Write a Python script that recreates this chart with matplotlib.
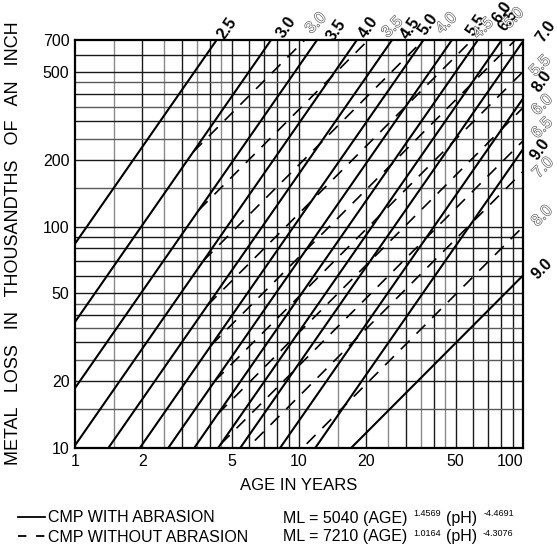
import numpy as np
import matplotlib
matplotlib.use("Agg")
import matplotlib.pyplot as plt
import matplotlib.patheffects as pe

# ---------------- data ----------------
ph_with = [2.5, 3.0, 3.5, 4.0, 4.5, 5.0, 5.5, 6.0, 6.5, 7.0, 8.0, 9.0]
ph_without = [3.0, 3.5, 4.0, 4.5, 5.0, 5.5, 6.0, 6.5, 7.0, 8.0, 9.0]
coef_with, age_exp_with, ph_exp_with = 5040, 1.4569, -4.4691
coef_without, age_exp_without, ph_exp_without = 7210, 1.0164, -4.3076
x_ticks = [1, 2, 5, 10, 20, 50, 100]
y_ticks = [10, 20, 50, 100, 200, 500, 700]
x_grid = [1.5, 2, 2.5, 3, 3.5, 4, 4.5, 5, 6, 7, 8, 9, 10, 15, 20, 25, 30, 35,
          40, 45, 50, 60, 70, 80, 90]
y_grid = [15, 20, 25, 30, 35, 40, 45, 50, 60, 70, 80, 90, 100, 150, 200, 250,
          300, 350, 400, 450, 500, 600]
x_label = "AGE IN YEARS"
y_label = "METAL   LOSS   IN   THOUSANDTHS   OF   AN   INCH"
legend_with = "CMP WITH ABRASION"
legend_without = "CMP WITHOUT ABRASION"

# ---------------- styles ----------------
W, H, DPI = 557, 554, 100
plt.rcParams['font.family'] = ['Liberation Sans', 'DejaVu Sans']
plt.rcParams['lines.scale_dashes'] = False

fig = plt.figure(figsize=(W / DPI, H / DPI), dpi=DPI)
ax = fig.add_axes([75 / W, 1 - 448 / H, (523 - 75) / W, (448 - 40) / H])
ax.set_xscale('log')
ax.set_yscale('log')
XMIN, XMAX, YMIN, YMAX = 1, 100, 10, 700
ax.set_xlim(XMIN, XMAX)
ax.set_ylim(YMIN, YMAX)


def is_half(g):
    return (g * 2) % 2 == 1 or (10 <= g < 100 and g % 10 == 5) or (g >= 100 and g % 100 == 50)


for g in x_grid:
    ax.axvline(g, color='#8a8a8a' if is_half(g) else '#1a1a1a', lw=1.0, zorder=1)
for g in y_grid:
    ax.axhline(g, color='#5a5a5a' if is_half(g) else '#1a1a1a', lw=1.0, zorder=1)

ax.set_xticks(x_ticks)
ax.set_xticklabels([str(t) for t in x_ticks])
ax.set_yticks(y_ticks)
ax.set_yticklabels([str(t) for t in y_ticks])
ax.minorticks_off()
ax.tick_params(length=0, labelsize=11.5, pad=4)
ax.get_xticklabels()[-1].set_horizontalalignment('right')
for s in ax.spines.values():
    s.set_linewidth(1.6)
    s.set_zorder(5)


def ml(c, a, e, p, age):
    return c * np.power(age, a) * p ** e


def end_point(c, a, e, p):
    age_top = (YMAX / (c * p ** e)) ** (1 / a)
    if age_top <= XMAX:
        return age_top, YMAX
    return XMAX, ml(c, a, e, p, XMAX)


# label offsets in pixels from line end (x right, y up)
off_with = {2.5: (11, 12), 3.0: (15, 13), 3.5: (19, 10), 4.0: (12, 13),
            4.5: (18, 12), 5.0: (5, 16), 5.5: (24, 15), 6.0: (24, 28),
            6.5: (6, 20), 7.0: (23, 10), 8.0: (19, 17), 9.0: (17, 0)}
off_without = {3.0: (11, 17), 3.5: (24, 13), 4.0: (23, 17), 4.5: (11, 12),
               5.0: (-2, 22), 5.5: (17, 6), 6.0: (19, 3), 6.5: (19, 13),
               7.0: (20, 4), 8.0: (19, 11), 9.0: (19, 7)}
solid_without = {9.0}

bold_kw = dict(fontsize=11.5, fontweight='bold', color='black',
               ha='center', va='center', rotation=55,
               textcoords='offset pixels', annotation_clip=False)
hollow_kw = dict(fontsize=11.5, color='white', ha='center', va='center',
                 rotation=45, textcoords='offset pixels', annotation_clip=False,
                 path_effects=[pe.withStroke(linewidth=0.9, foreground='#555555')])

for p in ph_with:
    ages = np.array([XMIN, XMAX], dtype=float)
    ax.plot(ages, ml(coef_with, age_exp_with, ph_exp_with, p, ages),
            color='black', lw=1.5, zorder=3, solid_capstyle='butt')
    ex, ey = end_point(coef_with, age_exp_with, ph_exp_with, p)
    ax.annotate(f"{p:.1f}", (ex, ey), xytext=off_with[p], **bold_kw)

ratio = coef_without / coef_with
for p in ph_without:
    # without-abrasion lines start where they meet the with-abrasion line
    a0 = (ratio * p ** (ph_exp_without - ph_exp_with)) ** (1 / (age_exp_with - age_exp_without))
    ages = np.array([max(a0, XMIN), XMAX], dtype=float)
    vals = ml(coef_without, age_exp_without, ph_exp_without, p, ages)
    ex, ey = end_point(coef_without, age_exp_without, ph_exp_without, p)
    if p in solid_without:
        ax.plot(ages, vals, color='black', lw=1.5, zorder=3)
        ax.annotate(f"{p:.1f}", (ex, ey), xytext=off_without[p],
                    **dict(bold_kw, rotation=45))
    else:
        ax.plot(ages, vals, color='black', lw=1.2, zorder=3,
                dashes=(9, 7), dash_capstyle='butt')
        ax.annotate(f"{p:.1f}", (ex, ey), xytext=off_without[p], **hollow_kw)

# axis titles
fig.text(299 / W, 1 - 485 / H, x_label, ha='center', va='center', fontsize=12)
fig.text(14 / W, 1 - 243 / H, y_label, ha='center', va='center', fontsize=13,
         rotation=90)

# legend
y1, y2 = 1 - 518 / H, 1 - 537 / H
fig.add_artist(plt.Line2D([18 / W, 45 / W], [y1 + 1 / H, y1 + 1 / H], color='black', lw=1.3))
fig.add_artist(plt.Line2D([18 / W, 45 / W], [y2 + 1 / H, y2 + 1 / H], color='black', lw=1.3,
                          dashes=(6, 7)))
fig.text(48 / W, y1, legend_with, ha='left', va='center', fontsize=11.5)
fig.text(48 / W, y2, legend_without, ha='left', va='center', fontsize=11.5)

t1 = fig.text(283 / W, y1, f"ML = {coef_with} (AGE)", ha='left', va='center', fontsize=11.5)
t2 = fig.text(283 / W, y2, f"ML = {coef_without} (AGE)", ha='left', va='center', fontsize=11.5)
fig.canvas.draw()
r = fig.canvas.get_renderer()


def after(t, s, gap, dy, size):
    bb = t.get_window_extent(r)
    return fig.text((bb.x1 + gap) / W, (bb.y0 + dy) / H, s, ha='left',
                    va='baseline', fontsize=size)


for t, ae, pe_ in [(t1, age_exp_with, ph_exp_with), (t2, age_exp_without, ph_exp_without)]:
    s1 = after(t, f"{ae:.4f}", 6, 9, 6.5)
    fig.canvas.draw()
    ph_t = fig.text((s1.get_window_extent(r).x1 + 5) / W, t.get_position()[1],
                    "(pH)", ha='left', va='center', fontsize=11.5)
    fig.canvas.draw()
    after(ph_t, f"{pe_:.4f}", 6, 9, 6.5)

fig.savefig("out.png", dpi=DPI)
